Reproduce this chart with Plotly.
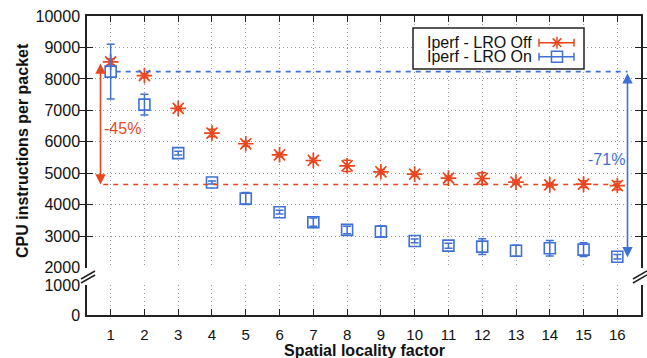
import plotly.graph_objects as go

# ---------------- data ----------------
factor = list(range(1, 17))
lro_off = [8540, 8105, 7064, 6280, 5939, 5589, 5408, 5239, 5048, 4975, 4847, 4835, 4720, 4634, 4656, 4611]
lro_off_err = [90, 60, 50, 120, 80, 60, 60, 180, 70, 70, 70, 180, 60, 50, 110, 130]
lro_on = [8232, 7182, 5643, 4707, 4197, 3764, 3446, 3201, 3147, 2850, 2701, 2669, 2541, 2618, 2573, 2350]
lro_on_err = [870, 330, 60, 50, 190, 60, 130, 120, 175, 60, 80, 250, 175, 245, 218, 70]
series_names = ["Iperf - LRO Off", "Iperf - LRO On"]
ref_on_level = 8232      # LRO On at factor 1
ref_off_level = 4643     # LRO Off asymptote
ref_off_top = 8540
ref_on_bottom = 2330
label_off = "-45%"
label_on = "-71%"

RED = "#E8461E"
BLUE = "#3F70D6"
AX = "#222222"
GRID = "#9a9a9a"
FONT = "Liberation Sans, Arial, sans-serif"

W, H = 647, 358
L, R, T, B = 87, 6, 16, 43
PW, PH = W - L - R, H - T - B


def px(x):
    return (x - L) / PW


def py(y):
    return (H - B - y) / PH


fig = go.Figure()

for ya in ["y", "y2"]:
    fig.add_trace(go.Scatter(
        x=factor, y=lro_off, mode="markers", xaxis="x", yaxis=ya,
        marker=dict(symbol="asterisk-open", size=13, color=RED, line=dict(color=RED, width=1.7)),
        error_y=dict(type="data", array=lro_off_err, color=RED, thickness=1.5, width=4),
        name=series_names[0], showlegend=False, cliponaxis=True))
    fig.add_trace(go.Scatter(
        x=factor, y=lro_on, mode="markers", xaxis="x", yaxis=ya,
        marker=dict(symbol="square-open", size=11, color=BLUE, line=dict(color=BLUE, width=1.6)),
        error_y=dict(type="data", array=lro_on_err, color=BLUE, thickness=1.5, width=4),
        name=series_names[1], showlegend=False, cliponaxis=True))

# dummy trace so the top x axis exists
fig.add_trace(go.Scatter(x=[factor[0]], y=[lro_on[0]], xaxis="x2", yaxis="y",
                         mode="markers", marker=dict(opacity=0), showlegend=False, hoverinfo="skip"))

xr = [0.3, 16.7]
common_y = dict(showline=True, linecolor=AX, linewidth=1.5, mirror="allticks",
                ticks="inside", ticklen=6, tickwidth=1.2, tickcolor=AX, automargin=False,
                showgrid=True, gridcolor=GRID, griddash="1px,3px", gridwidth=1, tickformat="d",
                ticklabelstandoff=2,
                zeroline=False, tickfont=dict(family=FONT, size=16, color="#111"))
fig.update_layout(
    width=W, height=H, margin=dict(l=L, r=R, t=T, b=B, autoexpand=False),
    paper_bgcolor="white", plot_bgcolor="white",
    xaxis=dict(range=xr, anchor="y2", tickvals=factor, ticks="inside", ticklen=6,
               tickwidth=1.2, tickcolor=AX, showline=True, linecolor=AX, linewidth=1.5,
               showgrid=True, gridcolor=GRID, griddash="1px,3px", gridwidth=1, zeroline=False,
               automargin=False, ticklabelstandoff=5,
               tickfont=dict(family=FONT, size=15, color="#111")),
    xaxis2=dict(range=xr, overlaying="x", anchor="y", side="top", tickvals=factor,
                ticks="inside", ticklen=6, tickwidth=1.2, tickcolor=AX, showline=True, automargin=False,
                linecolor=AX, linewidth=1.5, showgrid=False, showticklabels=False, zeroline=False),
    yaxis=dict(domain=[(H - B - 267.7) / PH, 1], range=[2000, 10000],
               dtick=1000, anchor="x", **common_y),
    yaxis2=dict(domain=[0, 30 / PH], range=[0, 1000], tickvals=[0, 1000], anchor="x", **common_y),
    showlegend=False,
)

# reference dashed lines
fig.add_shape(type="line", xref="x", yref="y", x0=1.15, x1=16.3, y0=ref_on_level, y1=ref_on_level,
              line=dict(color=BLUE, width=1.6, dash="5px,5px"))
fig.add_shape(type="line", xref="x", yref="y", x0=0.78, x1=16.1, y0=ref_off_level, y1=ref_off_level,
              line=dict(color=RED, width=1.6, dash="5px,5px"))

# double-headed arrows
fig.add_annotation(x=0.7, y=ref_off_level, ax=0.7, ay=ref_off_top, xref="x", yref="y",
                   axref="x", ayref="y", showarrow=True, arrowhead=2, startarrowhead=2,
                   arrowside="end+start", arrowsize=1.3, startarrowsize=1.3, arrowwidth=1.6,
                   arrowcolor=RED, text="")
fig.add_annotation(x=16.3, y=ref_on_bottom, ax=16.3, ay=ref_on_level, xref="x", yref="y",
                   axref="x", ayref="y", showarrow=True, arrowhead=2, startarrowhead=2,
                   arrowside="end+start", arrowsize=1.3, startarrowsize=1.3, arrowwidth=1.6,
                   arrowcolor=BLUE, text="")
fig.add_annotation(x=1.35, y=6420, xref="x", yref="y", text=label_off, showarrow=False,
                   xanchor="center", yanchor="middle", font=dict(family=FONT, size=16, color=RED))
fig.add_annotation(x=15.67, y=5430, xref="x", yref="y", text=label_on, showarrow=False,
                   xanchor="center", yanchor="middle", font=dict(family=FONT, size=16, color=BLUE))

# axis titles
fig.add_annotation(x=px(22), y=py(151), xref="paper", yref="paper", text="<b>CPU instructions per packet</b>",
                   textangle=-90, showarrow=False, xanchor="center", yanchor="middle",
                   font=dict(family=FONT, size=16, color="#111"))
fig.add_annotation(x=px(364), y=py(350), xref="paper", yref="paper", text="<b>Spatial locality factor</b>",
                   showarrow=False, xanchor="center", yanchor="middle",
                   font=dict(family=FONT, size=16, color="#111"))

# axis break marks
for cx in (88, 640):
    for dy in (-2, 2):
        fig.add_shape(type="line", xref="paper", yref="paper",
                      x0=px(cx - 7), y0=py(281 + dy), x1=px(cx + 7), y1=py(273 + dy),
                      line=dict(color=AX, width=1.5), layer="above")

# legend (manual box)
fig.add_shape(type="rect", xref="paper", yref="paper", x0=px(413), x1=px(584), y0=py(69), y1=py(28),
              line=dict(color=AX, width=1.5), fillcolor="white", layer="above")
for i, (name, col, yy) in enumerate([(series_names[0], RED, 42.7), (series_names[1], BLUE, 56.7)]):
    fig.add_annotation(x=px(425), y=py(yy), xref="paper", yref="paper", text=name, xanchor="left",
                       yanchor="middle", showarrow=False, font=dict(family=FONT, size=16, color="#111"))
    fig.add_shape(type="line", xref="paper", yref="paper", x0=px(539), x1=px(574), y0=py(yy), y1=py(yy),
                  line=dict(color=col, width=1.5), layer="above")
    for cxx in (539, 574):
        fig.add_shape(type="line", xref="paper", yref="paper", x0=px(cxx), x1=px(cxx), y0=py(yy - 4),
                      y1=py(yy + 4), line=dict(color=col, width=1.5), layer="above")
    if i == 0:
        for (dx0, dy0) in [(6, 0), (0, 6), (4.3, 4.3), (4.3, -4.3)]:
            fig.add_shape(type="line", xref="paper", yref="paper", x0=px(557 - dx0), x1=px(557 + dx0),
                          y0=py(yy - dy0), y1=py(yy + dy0), line=dict(color=col, width=1.5), layer="above")
    else:
        fig.add_shape(type="rect", xref="paper", yref="paper", x0=px(551.5), x1=px(562.5),
                      y0=py(yy + 5.5), y1=py(yy - 5.5), line=dict(color=col, width=1.5),
                      fillcolor="rgba(0,0,0,0)", layer="above")

fig.write_html("out.html", config={"displayModeBar": False},
               post_script="document.body.style.margin='0px';document.body.style.padding='0px';")
